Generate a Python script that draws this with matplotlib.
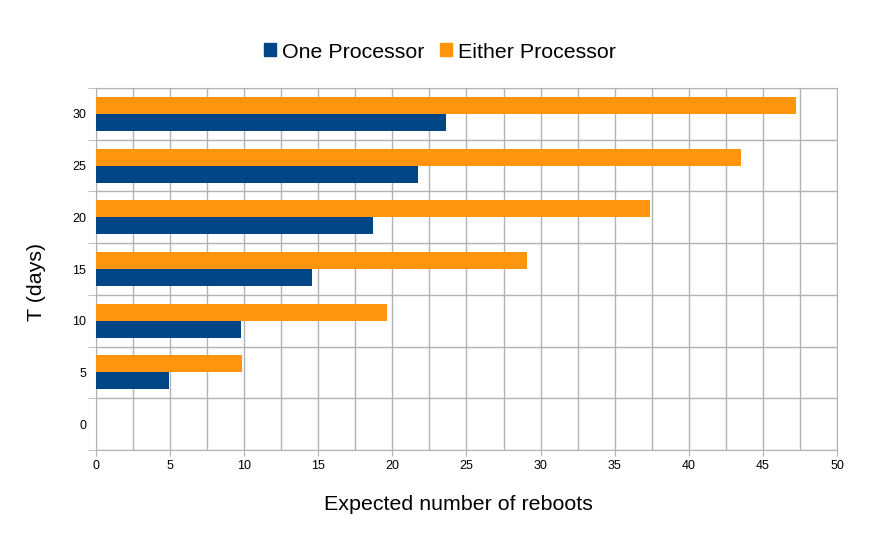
import matplotlib
matplotlib.use("Agg")
import matplotlib.pyplot as plt
import numpy as np
from matplotlib.ticker import MultipleLocator, FixedLocator
from matplotlib.patches import Patch

plt.rcParams['font.family'] = ['Liberation Sans', 'DejaVu Sans']

categories = ["0", "5", "10", "15", "20", "25", "30"]
one_processor = [0, 4.95, 9.8, 14.55, 18.7, 21.75, 23.6]
either_processor = [0, 9.87, 19.65, 29.1, 37.4, 43.5, 47.2]
x_ticks = [0, 5, 10, 15, 20, 25, 30, 35, 40, 45, 50]

blue = "#004586"
orange = "#ff950e"
gridc = "#b3b3b3"

fig = plt.figure(figsize=(8.79, 5.38), dpi=100)
ax = fig.add_axes([96/879, 1-450/538, (837-96)/879, (450-88)/538])

y = np.arange(len(categories))
h = 0.33
ax.barh(y - h/2, one_processor, height=h, color=blue, zorder=3)
ax.barh(y + h/2, either_processor, height=h, color=orange, zorder=3)

ax.set_xlim(0, 50)
ax.set_ylim(-0.5, len(categories) - 0.5)

ax.xaxis.set_major_locator(FixedLocator(x_ticks))
ax.xaxis.set_minor_locator(MultipleLocator(2.5))
ax.set_yticks(y)
ax.set_yticklabels(categories)
ax.yaxis.set_minor_locator(FixedLocator(np.arange(-0.5, len(categories), 1.0)))

ax.grid(which='minor', axis='both', color=gridc, linewidth=1, zorder=0)
ax.grid(which='major', axis='x', color=gridc, linewidth=1, zorder=0)
ax.set_axisbelow(True)

for s in ax.spines.values():
    s.set_visible(True)
    s.set_color(gridc)

ax.tick_params(axis='x', which='major', length=4, color=gridc, labelsize=9, pad=3)
ax.tick_params(axis='x', which='minor', length=0)
ax.tick_params(axis='y', which='major', length=0, labelsize=9, pad=7)
ax.tick_params(axis='y', which='minor', length=6, color=gridc)

ax.set_xlabel("Expected number of reboots", fontsize=15.4)
ax.set_ylabel("T (days)", fontsize=15.4)
ax.xaxis.label.set_va('center')
ax.yaxis.label.set_va('center')
ax.xaxis.set_label_coords((458-96)/741, (450-504)/362)
ax.yaxis.set_label_coords((37-96)/741, (450-282)/362)

handles = [Patch(color=blue, label="One Processor"), Patch(color=orange, label="Either Processor")]
fig.legend(handles=handles, loc='center', bbox_to_anchor=(440/879, 1-52/538), ncol=2,
           frameon=False, fontsize=15.4, handlelength=0.56, handleheight=0.56,
           handletextpad=0.28, columnspacing=0.75, borderpad=0)

fig.savefig("out.png", dpi=100)
